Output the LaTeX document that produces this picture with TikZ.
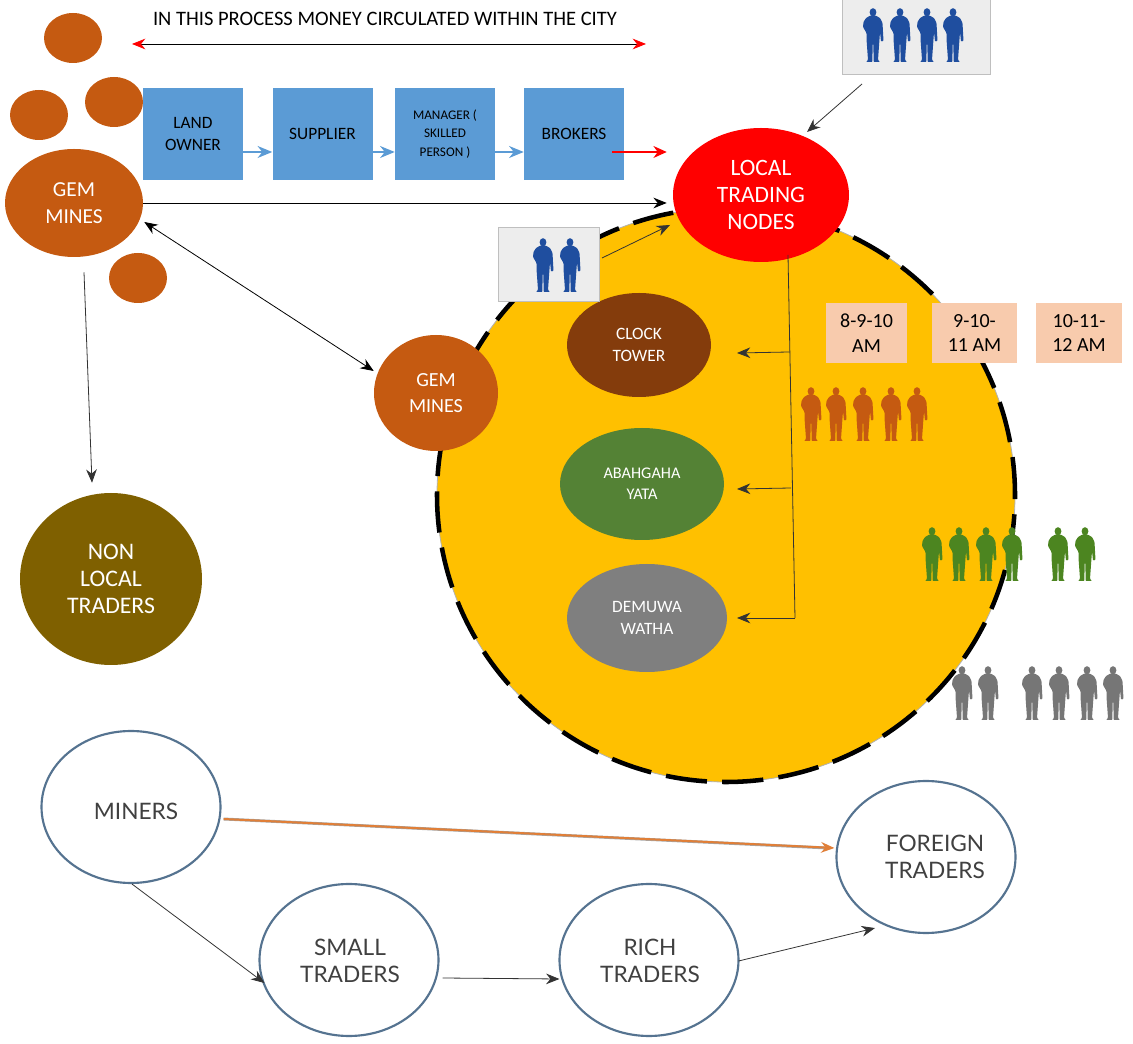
\documentclass[tikz,border=0pt]{standalone}
\usepackage{fontspec}
\setmainfont{Carlito}
\newfontfamily\thinfont{Lato}
\usetikzlibrary{shapes.geometric, arrows.meta}

\definecolor{gemorange}{HTML}{C55A11}
\definecolor{boxblue}{HTML}{5B9BD5}
\definecolor{cityyellow}{HTML}{FFC000}
\definecolor{timepeach}{HTML}{F8CBAD}
\definecolor{photogray}{HTML}{EDEDED}
\definecolor{nonlocalbrown}{HTML}{7F6000}
\definecolor{clockbrown}{HTML}{843C0C}
\definecolor{yatagreen}{HTML}{548235}
\definecolor{wathagray}{HTML}{7F7F7F}
\definecolor{peopleblue}{HTML}{1F4E9F}
\definecolor{peoplegreen}{HTML}{4C8520}
\definecolor{peoplegray}{HTML}{767676}
\definecolor{ringblue}{HTML}{557390}
\definecolor{linkorange}{HTML}{E07F38}

\tikzset{
    size/.style 2 args={minimum width=0.75*#1, minimum height=0.75*#2},
    blob/.style={ellipse, fill=gemorange, inner sep=0pt, text=white, align=center},
    stagebox/.style={rectangle, fill=boxblue, inner sep=0pt, size={100}{92}, align=center},
    timebox/.style={rectangle, fill=timepeach, inner sep=0pt, align=center, font=\fontsize{15}{18.5}\selectfont},
    photobox/.style={rectangle, fill=photogray, draw=gray!50, line width=0.7pt, inner sep=0pt},
    ring/.style={ellipse, draw=ringblue, line width=1.6pt, fill=white, inner sep=0pt, size={179}{152}},
    ringtext/.style={inner sep=0pt, align=center, text=black!75, font=\thinfont\fontsize{17}{19.8}\selectfont},
    link/.style={-{Stealth[length=10pt, width=8pt]}, line width=0.6pt, black!80},
    person/.pic={
        \fill[#1] (0,4.3) ellipse (3.4 and 4.1);
        \fill[#1, rounded corners=0.6pt] (-2.5,7.5) -- (-7,10) -- (-9.5,14) -- (-10,19) -- (-6.5,25) -- (-6.5,31) -- (-5,52) -- (-7,54)
            -- (-0.6,54) -- (-0.4,36) -- (0.4,36) -- (0.6,54) -- (7,54) -- (5,52) -- (6.5,31) -- (7,24) -- (8,33.5) -- (10.5,33)
            -- (9.5,15) -- (7,10) -- (2.5,7.5) -- cycle;
    }
}

\begin{document}
\begin{tikzpicture}[x=0.75pt, y=-0.75pt]
    \useasboundingbox (0,0) rectangle (1133,1044);

    % city circle
    \node[ellipse, fill=cityyellow, draw=gray!60, line width=0.6pt, inner sep=0pt, size={578}{574}] (cityedge) at (726,495) {};
    \node[ellipse, draw=black, line width=3.4pt, dash pattern=on 31pt off 11.4pt, dash phase=2.5pt, inner sep=0pt, size={578}{574}] (city) at (726,495) {};

    % gem mines
    \node[blob, size={58}{50}] (blobA) at (73,38) {};
    \node[blob, size={58}{50}] (blobB) at (39,115) {};
    \node[blob, size={58}{50}] (blobC) at (114,102) {};
    \node[blob, size={58}{50}] (blobD) at (138,278) {};
    \node[blob, size={138}{108}, font=\fontsize{16}{20}\selectfont] (gem) at (74,203) {GEM\\MINES};
    \node[blob, size={124}{116}, font=\fontsize{15}{19}\selectfont] (citygem) at (436,393) {GEM\\MINES};
    \node[blob, fill=nonlocalbrown, size={182}{172}, font=\fontsize{17.8}{20.5}\selectfont] (nonlocal) at (111,579) {NON\\LOCAL\\TRADERS};

    % supply chain
    \node[font=\fontsize{15.4}{15}\selectfont, inner sep=0pt] (title) at (385,19) {IN THIS PROCESS MONEY CIRCULATED WITHIN THE CITY};
    \coordinate (moneyL) at (132,44);
    \coordinate (moneyR) at (646,44);
    \node[stagebox, font=\fontsize{13}{16}\selectfont] (land) at (193,134) {LAND\\OWNER};
    \node[stagebox, font=\fontsize{13}{16}\selectfont] (supplier) at (322.5,134) {SUPPLIER};
    \node[stagebox, font=\fontsize{9.9}{14}\selectfont] (manager) at (445,134) {MANAGER (\\SKILLED\\PERSON )};
    \node[stagebox, font=\fontsize{13}{16}\selectfont] (brokers) at (574,134) {BROKERS};

    % trading nodes
    \node[blob, fill=red, size={176}{134}, font=\fontsize{17.6}{20.5}\selectfont] (local) at (761,195) {LOCAL\\TRADING\\NODES};
    \node[blob, fill=clockbrown, size={144}{104}, font=\fontsize{13}{16}\selectfont] (clock) at (639,345) {CLOCK\\TOWER};
    \node[blob, fill=yatagreen, size={164}{112}, font=\fontsize{12.2}{15.5}\selectfont] (yata) at (642,484) {ABAHGAHA\\YATA};
    \node[blob, fill=wathagray, size={160}{108}, font=\fontsize{13}{16}\selectfont] (watha) at (647,618) {DEMUWA\\WATHA};

    % photos
    \node[photobox, size={148}{75}] (photoA) at (916,37) {};
    \node[photobox, size={101}{74}] (photoB) at (548.5,264) {};
    \foreach \x in {873,900,927,953} {
        \pic at (\x,8) {person=peopleblue};
    }
    \foreach \x in {543,570} {
        \pic at (\x,238) {person=peopleblue};
    }

    % times
    \node[timebox, size={81}{60}] (timeA) at (866.5,333) {8-9-10\\AM};
    \node[timebox, size={85}{60}] (timeB) at (974.5,333) {9-10-\\11 AM};
    \node[timebox, size={86}{60}] (timeC) at (1079,333) {10-11-\\12 AM};
    \foreach \x in {811,836,863,891,917} {
        \pic at (\x,387) {person=gemorange};
    }
    \foreach \x in {932,959,986,1012,1058,1085} {
        \pic at (\x,527) {person=peoplegreen};
    }
    \foreach \x in {962,988,1032,1059,1087,1113} {
        \pic at (\x,666) {person=peoplegray};
    }

    % traders
    \node[ring] (miners) at (131,807) {};
    \node[ring] (small) at (349,960) {};
    \node[ring] (rich) at (649,960) {};
    \node[ring] (foreign) at (926,857) {};
    \node[ringtext] (minerstext) at (136,811) {MINERS};
    \node[ringtext] (smalltext) at (350,961) {SMALL\\TRADERS};
    \node[ringtext] (richtext) at (650,961) {RICH\\TRADERS};
    \node[ringtext] (foreigntext) at (935,857) {FOREIGN\\TRADERS};

    % free ends
    \coordinate (photoAend) at (862,84);
    \coordinate (localtop) at (807,132);
    \coordinate (photoBend) at (602,258);
    \coordinate (localleft) at (670,225);
    \coordinate (branchtop) at (788,255);
    \coordinate (branchA) at (789,352);
    \coordinate (branchB) at (791,488);
    \coordinate (branchC) at (795,618);
    \coordinate (clockend) at (737,353);
    \coordinate (yataend) at (737,489);
    \coordinate (wathaend) at (737,618);

    \draw[{Stealth[length=10pt, width=8pt, red]}-{Stealth[length=10pt, width=8pt, red]}, line width=0.6pt] (moneyL) -- (moneyR);
    \foreach \i/\j in {land/supplier, supplier/manager, manager/brokers} {
        \draw[-{Stealth[length=11pt, width=9pt]}, boxblue, line width=0.9pt] ([shift={(0,18)}]\i.east) -- ([shift={(0,18)}]\j.west);
    }
    \draw[-{Stealth[length=10pt, width=9pt]}, red, line width=0.8pt] ([shift={(-12,18)}]brokers.east) -- ([shift={(-6,-43)}]local.west);

    \draw[link, black] (gem.east) -- ([shift={(-6,8)}]local.west);
    \draw[{Stealth[length=10pt, width=8pt]}-{Stealth[length=10pt, width=8pt]}, line width=0.6pt] ([shift={(1,19)}]gem.east) -- ([shift={(0,-22)}]citygem.west);
    \draw[link] ([shift={(10,15)}]gem.south) -- ([shift={(-19,-10)}]nonlocal.north);

    \foreach \i/\j in {photoAend/localtop, photoBend/localleft, branchA/clockend, branchB/yataend, branchC/wathaend} {
        \draw[link] (\i) -- (\j);
    }
    \draw[line width=0.6pt, black!80] (branchtop) -- (branchC);

    \draw[link] ([shift={(1,0)}]miners.south) -- ([shift={(6,23)}]small.west);
    \draw[link] ([shift={(3,18)}]small.east) -- ([shift={(1,19)}]rich.west);
    \draw[link] ([shift={(-1,1)}]rich.east) -- ([shift={(-51,-6)}]foreign.south);
    \draw[gray!70, line width=2.2pt] ([shift={(2,12)}]miners.east) -- ([shift={(-8,-9)}]foreign.west);
    \draw[-{Stealth[length=10pt, width=8pt]}, linkorange, line width=1.5pt] ([shift={(2,12)}]miners.east) -- ([shift={(-1,-9)}]foreign.west);
\end{tikzpicture}
\end{document}
